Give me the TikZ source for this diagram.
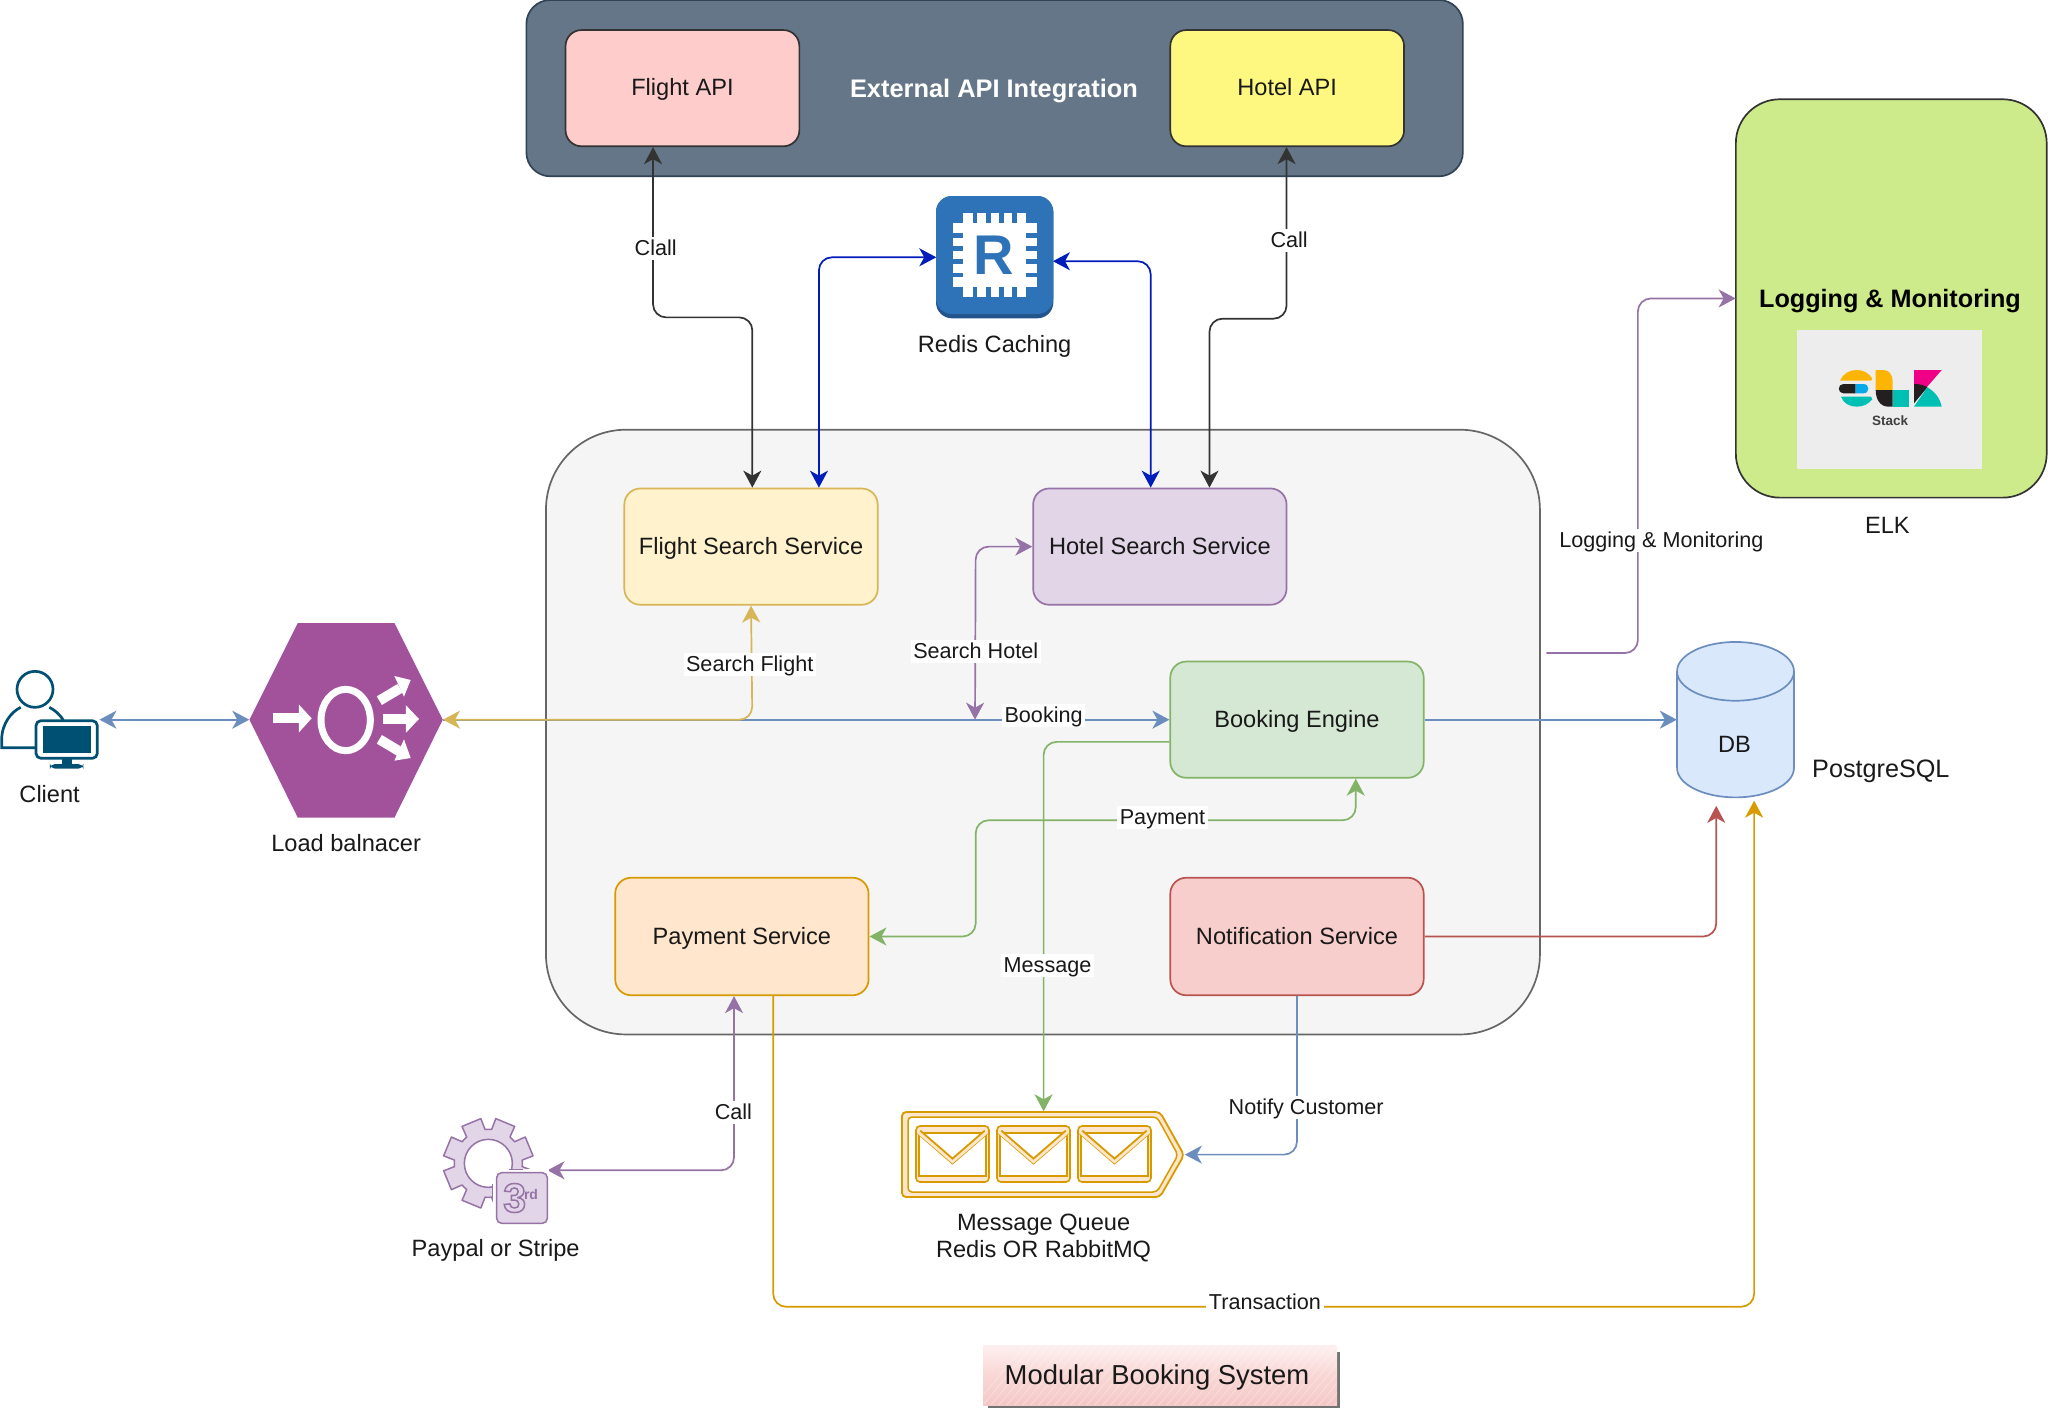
\documentclass[tikz,border=0pt]{standalone}
\usepackage{fontspec}
\setmainfont{Liberation Sans}
\usetikzlibrary{arrows.meta,calc}
\newcommand\uu{1.30612pt}
\definecolor{cdark}{HTML}{333333}
\definecolor{cblue}{HTML}{001DBC}
\definecolor{cpurple}{HTML}{9673A6}
\definecolor{cbl}{HTML}{6C8EBF}
\definecolor{cgreen}{HTML}{82B366}
\definecolor{cgold}{HTML}{D6B656}
\definecolor{corange}{HTML}{D79B00}
\definecolor{cred}{HTML}{B85450}
\definecolor{cicon}{HTML}{005073}
\definecolor{ccyan}{HTML}{00BFB3}
\tikzset{
  fixed/.style={text height=#1*.86pt,text depth=#1*.2pt},
  txt/.style={font=\fontsize{23.6}{27}\selectfont,text=black!90,inner sep=0pt,fixed=23.6},
  lab/.style={font=\fontsize{21.6}{25}\selectfont,text=black!90,fill=white,inner xsep=2.5pt,inner ysep=0pt,fixed=21.6},
  ghost/.style 2 args={inner sep=0pt,minimum width=#1*\uu,minimum height=#2*\uu},
  svc/.style n args={4}{rectangle,rounded corners=16pt,draw=#4,fill=#3,line width=1.7pt,inner sep=0pt,
     minimum width=#1*\uu,minimum height=#2*\uu,font=\fontsize{23.6}{27}\selectfont,text=black!90,fixed=23.6},
  conn/.style={line width=1.7pt,rounded corners=13pt,
     {Stealth[length=17pt,width=18pt,inset=5pt]}-{Stealth[length=17pt,width=18pt,inset=5pt]}},
  one/.style={line width=1.7pt,rounded corners=13pt,-{Stealth[length=17pt,width=18pt,inset=5pt]}},
}
\begin{document}
\begin{tikzpicture}[x=\uu,y=-\uu]
\path[use as bounding box,fill=white] (0pt,0pt) rectangle (2048pt,-1413pt);

% panels
\fill[fill={rgb,255:red,100;green,118;blue,135},draw={rgb,255:red,49;green,67;blue,84},line width=1.7pt,rounded corners=24pt]
  (403,0) rectangle (1120,135);
\node[font=\bfseries\fontsize{25.4}{29}\selectfont,text=white,inner sep=0pt,fixed=25.4] (exttitle) at (761,68) {External API Integration};
\node[svc={179}{89}{red!20}{cdark}] (flapi) at (522.5,67.5) {Flight API};
\node[svc={179}{89}{yellow!50}{cdark}] (hoapi) at (985.5,67.5) {Hotel API};

\node[ghost={238}{305}] (elk) at (1448,228.5) {};
\draw[fill={rgb,255:red,205;green,235;blue,139},draw=cdark,line width=1.7pt,rounded corners=44pt] (1329,76) rectangle (1567,381);
\node[font=\bfseries\fontsize{25.2}{29}\selectfont,text=black,inner sep=0pt,fixed=25.2] (elktitle) at (1447,229) {Logging \& Monitoring};
\fill[fill={rgb,255:red,237;green,237;blue,237}] (1376,253) rectangle (1517.5,359);
\begin{scope}[x=.33333pt,y=-.33333pt,shift={(1760pt,-310pt)}]
  \fill[fill={rgb,255:red,254;green,180;blue,5}] (240,212) .. controls (250,190) and (268,180) .. (290,180) .. controls (310,180) and (326,188) .. (337,206) -- (333,212) -- cycle;
  \fill[fill={rgb,255:red,35;green,31;blue,32}] (287,222) -- (250,222) .. controls (232,222) and (232,250) .. (250,250) -- (287,250) -- cycle;
  \fill[fill={rgb,255:red,5;green,170;blue,235}] (287,222) -- (310,222) .. controls (330,222) and (330,250) .. (310,250) -- (287,250) -- cycle;
  \fill[ccyan] (243,260) -- (333,260) -- (337,268) .. controls (325,282) and (310,290) .. (290,290) .. controls (268,290) and (250,280) .. (243,260) -- cycle;
  \fill[fill={rgb,255:red,254;green,180;blue,5}] (347,180) -- (370,180) .. controls (388,180) and (398,195) .. (398,215) -- (398,240) -- (347,240) -- cycle;
  \fill[fill={rgb,255:red,35;green,31;blue,32}] (347,240) -- (398,240) -- (398,290) -- (385,290) .. controls (362,290) and (347,270) .. (347,240) -- cycle;
  \fill[ccyan] (398,240) -- (447,240) -- (447,290) -- (398,290) -- cycle;
  \fill[fill={rgb,255:red,240;green,0;blue,135}] (462,180) -- (545,180) -- (500,232) -- (462,222) -- cycle;
  \fill[fill={rgb,255:red,35;green,31;blue,32}] (462,222) .. controls (480,222) and (492,225) .. (502,232) -- (462,280) -- cycle;
  \fill[ccyan] (462,290) -- (502,232) .. controls (525,245) and (540,265) .. (545,290) -- cycle;
  \node[font=\bfseries\fontsize{13.5}{15}\selectfont,text=black!75,inner sep=0pt] (elkstack) at (390,332) {Stack};
\end{scope}
\node[txt] (elklabel) at (1445,402.5) {ELK};

% container
\draw[fill={rgb,255:red,245;green,245;blue,245},draw={rgb,255:red,102;green,102;blue,102},line width=1.7pt,rounded corners=80pt]
  (418,329) rectangle (1179,792);

% invisible anchors for icons
\node[ghost={76}{100}] (client) at (38,551) {};
\node[ghost={148}{149}] (lb) at (265,551) {};
\node[ghost={89}{94}] (redis) at (761.5,197) {};
\node[ghost={89}{120}] (db) at (1328.5,551) {};
\node[ghost={216}{66}] (queue) at (799,884) {};
\node[ghost={80}{80}] (third) at (379,896) {};
\coordinate (logstart) at (1184,500);

% service nodes
\node[svc={194}{89}{white}{cgold},fill={rgb,255:red,255;green,242;blue,204}] (flsearch) at (575,418.5) {Flight Search Service};
\node[svc={194}{89}{white}{cpurple},fill={rgb,255:red,225;green,213;blue,231}] (hosearch) at (888,418.5) {Hotel Search Service};
\node[svc={194}{89}{white}{cgreen},fill={rgb,255:red,213;green,232;blue,212}] (booking) at (993,551) {Booking Engine};
\node[svc={194}{90}{white}{corange},fill={rgb,255:red,255;green,230;blue,204}] (payment) at (568,717) {Payment Service};
\node[svc={194}{90}{white}{cred},fill={rgb,255:red,248;green,206;blue,204}] (notify) at (993,717) {Notification Service};

% connectors
\draw[conn,cdark] (500,0 |- flapi.south) -- (500,243) -- (576,243) -- (576,0 |- flsearch.north);
\draw[conn,cdark] (985,0 |- hoapi.south) -- (985,244) -- (926,244) -- (926,0 |- hosearch.north);
\draw[conn,cblue] (627,0 |- flsearch.north) -- (627,197) -- (redis.west);
\draw[conn,cblue] (0,200 -| redis.east) -- (881,200) -- (881,0 |- hosearch.north);
\draw[one,cpurple] (logstart) -- (1254,500) -- (1254,228.5) -- (elk.west);
\draw[one,cbl] (lb.east) -- (booking.west);
\draw[conn,cgold] (lb.east) -- (576,551) -- (flsearch.south);
\draw[conn,cpurple] (hosearch.west) -- (747,418.5) -- (746.5,551);
\draw[conn,cbl] (client.east) -- (lb.west);
\draw[one,cbl] (booking.east) -- (db.west);
\draw[one,cgreen] (0,568 -| booking.west) -- (799,568) -- (queue.north);
\draw[conn,cgreen] (1038,0 |- booking.south) -- (1038,628) -- (747,628) -- (747,717) -- (payment.east);
\draw[one,cred] (notify.east) -- (1314,717) -- (1314,617);
\draw[one,cbl] (notify.south) -- (993,884) -- (queue.east);
\draw[one,corange] (592,0 |- payment.south) -- (592,1000.5) -- (1343,1000.5) -- (1343,613);
\draw[conn,cpurple] (562,0 |- payment.south) -- (562,896) -- (third.east);

% connector labels
\node[lab] (l1) at (502,190) {Clall};
\node[lab] (l2) at (987,184) {Call};
\node[lab] (l3) at (1272,414) {Logging \& Monitoring};
\node[lab] (l4) at (574,509) {Search Flight};
\node[lab] (l5) at (747,499) {Search Hotel};
\node[lab] (l6) at (799,548) {Booking};
\node[lab] (l7) at (890,626) {Payment};
\node[lab] (l8) at (802,739) {Message};
\node[lab] (l9) at (1000,848) {Notify Customer};
\node[lab] (l10) at (561.5,852) {Call};
\node[lab] (l11) at (968.5,997) {Transaction};

% DB
\draw[fill={rgb,255:red,218;green,232;blue,252},draw=cbl,line width=1.7pt]
  (1284,514) arc[start angle=180,end angle=360,x radius=44.75,y radius=22.5] -- (1373.5,588)
  arc[start angle=0,end angle=180,x radius=44.75,y radius=22.5] -- cycle;
\draw[draw=cbl,line width=1.7pt] (1284,514) arc[start angle=180,end angle=0,x radius=44.75,y radius=22.5];
\node[txt] (dblabel) at (1328,570) {DB};
\node[font=\fontsize{25.2}{29}\selectfont,text=black!90,inner sep=0pt,fixed=25.2] (pg) at (1440,589) {PostgreSQL};

% client icon
\begin{scope}[x=.33333pt,y=-.33333pt,shift={(0pt,-600pt)}]
  \draw[cicon,line width=2.7pt] (105,268) circle[radius=54];
  \draw[cicon,line width=2.7pt] (105,443) -- (5,443) -- (5,420) .. controls (5,370) and (35,335) .. (62,322);
  \draw[cicon,line width=2.7pt] (148,322) .. controls (165,330) and (180,345) .. (190,360);
  \draw[cicon,line width=2.7pt,fill=white,rounded corners=5pt] (108,362) rectangle (292,475);
  \fill[cicon] (128,378) rectangle (272,458);
  \fill[cicon] (185,475) rectangle (215,495);
  \fill[cicon,rounded corners=5pt] (150,492) rectangle (250,506);
\end{scope}
\node[txt] (clientl) at (38,608.5) {Client};

% load balancer
\fill[fill={rgb,255:red,162;green,82;blue,155}] (191,551) -- (228,477) -- (302,477) -- (339,551) -- (302,626) -- (228,626) -- cycle;
\begin{scope}[x=.33333pt,y=-.33333pt,shift={(0pt,-600pt)}]
  \draw[white,line width=10pt] (818,355) -- (900,355);
  \fill[white] (897,314) -- (935,355) -- (897,397) -- cycle;
  \draw[white,line width=7pt] (1037,360) ellipse[x radius=74,y radius=92];
  \draw[white,line width=10pt] (1148,357) -- (1220,357);
  \fill[white] (1218,316) -- (1257,357) -- (1218,398) -- cycle;
  \draw[white,line width=10pt] (1138,302) -- (1200,265);
  \fill[white] (1183,228) -- (1232,240) -- (1212,290) -- cycle;
  \draw[white,line width=10pt] (1138,418) -- (1200,455);
  \fill[white] (1212,418) -- (1232,474) -- (1183,482) -- cycle;
\end{scope}
\node[txt] (lbl) at (265,646) {Load balnacer};

% redis icon
\begin{scope}[x=.33333pt,y=-.33333pt,shift={(880pt,-170pt)}]
  \fill[fill={rgb,255:red,36;green,84;blue,140},rounded corners=16pt] (168,78) rectangle (520,445);
  \fill[fill={rgb,255:red,46;green,115;blue,184},rounded corners=16pt] (168,78) rectangle (520,432);
  \fill[white] (248,128) rectangle (438,382);
  \fill[white] (218,158) rectangle (470,350);
  \begin{scope}[fill={rgb,255:red,46;green,115;blue,184}]
    \foreach \xx in {278,318,358,397}{
      \fill (\xx,128) rectangle (\xx+14,160);
      \fill (\xx,350) rectangle (\xx+14,382);}
    \foreach \yy in {190,229,268,308}{
      \fill (218,\yy) rectangle (250,\yy+14);
      \fill (438,\yy) rectangle (470,\yy+14);}
  \end{scope}
  \node[font=\bfseries\fontsize{56}{60}\selectfont,text={rgb,255:red,46;green,115;blue,184},inner sep=0pt] (redisR) at (341,256) {R};
\end{scope}
\node[txt] (redisl) at (761.5,264) {Redis Caching};

% queue icon
\begin{scope}[x=1pt,y=-1pt]
  \draw[corange,line width=1.8pt,fill={rgb,255:red,255;green,230;blue,204},rounded corners=4pt] (902,1112) -- (1160,1112) -- (1184,1155) -- (1160,1197) -- (902,1197) -- cycle;
  \draw[corange,line width=1.5pt,fill=white,rounded corners=4pt] (908,1117) -- (1157,1117) -- (1178,1155) -- (1157,1192) -- (908,1192) -- cycle;
  \foreach \xx in {916,997,1078}{
    \draw[corange,line width=1.6pt,fill={rgb,255:red,255;green,230;blue,204},rounded corners=4pt] (\xx,1126) rectangle (\xx+73,1182);
    \draw[corange,line width=1.5pt,fill=white] (\xx+3,1133) rectangle (\xx+70,1176);
    \draw[corange,line width=5.5pt,line join=miter] (\xx+3,1132) -- (\xx+36.5,1161) -- (\xx+70,1132);
    \draw[fill={rgb,255:red,255;green,230;blue,204},draw=none] (\xx+2,1130) -- (\xx+36.5,1160) -- (\xx+71,1130) -- (\xx+71,1134) -- (\xx+36.5,1163.5) -- (\xx+2,1134) -- cycle;
  }
\end{scope}
\node[font=\fontsize{23.6}{27.5}\selectfont,text=black!90,inner sep=0pt,align=center] (queuel) at (799,948) {Message Queue\\Redis OR RabbitMQ};

% third party icon
\begin{scope}[x=.33333pt,y=-.33333pt,shift={(430pt,-1100pt)}]
  \begin{scope}[shift={(175,190)}]
    \filldraw[fill={rgb,255:red,225;green,213;blue,231},draw=cpurple,line width=1.5pt,line join=round,even odd rule]
      (22.5-17:102) \foreach \a in {22.5,67.5,...,337.5}{
        -- (\a-13:136) -- (\a+13:136) -- (\a+17:102) arc[start angle=\a+17,end angle=\a+28,radius=102] }
      -- cycle (0:72) arc[start angle=0,end angle=360,radius=72] -- cycle;
  \end{scope}
  \fill[white] (188,208) rectangle (358,376);
  \draw[cpurple,line width=1.5pt] (238,208) -- (278,208);
  \draw[cpurple,line width=1.5pt] (188,252) -- (188,300);
  \draw[cpurple,line width=1.5pt,fill={rgb,255:red,225;green,213;blue,231},rounded corners=5pt] (200,218) rectangle (352,370);
  \node[font=\bfseries\fontsize{41}{43}\selectfont,text=cpurple,inner sep=0pt] (three) at (254,294) {\special{pdf:code 1 Tr 1.5 w}3\special{pdf:code 0 Tr}};
  \node[font=\bfseries\fontsize{14}{16}\selectfont,text=cpurple,inner sep=0pt] (rd) at (303,282) {rd};
\end{scope}
\node[txt] (thirdl) at (379.5,956) {Paypal or Stripe};

% title
\begin{scope}[x=1pt,y=-1pt]
  \fill[black!55] (988,1352) rectangle (1340,1408);
  \shade[top color={rgb,255:red,253;green,240;blue,240},bottom color={rgb,255:red,244;green,200;blue,198},middle color={rgb,255:red,248;green,215;blue,213}] (983,1345) rectangle (1337,1405);
  \begin{scope}
    \clip (983,1345) rectangle (1337,1405);
    \foreach \xx in {975,983,...,1340}{\draw[white,opacity=.3,line width=.8pt] (\xx,1405) -- (\xx+50,1345);}
  \end{scope}
  \node[font=\fontsize{27.4}{32}\selectfont,text=black!90,inner sep=0pt,fixed=27.4] (title) at (1157,1375) {Modular Booking System};
\end{scope}
\end{tikzpicture}
\end{document}
